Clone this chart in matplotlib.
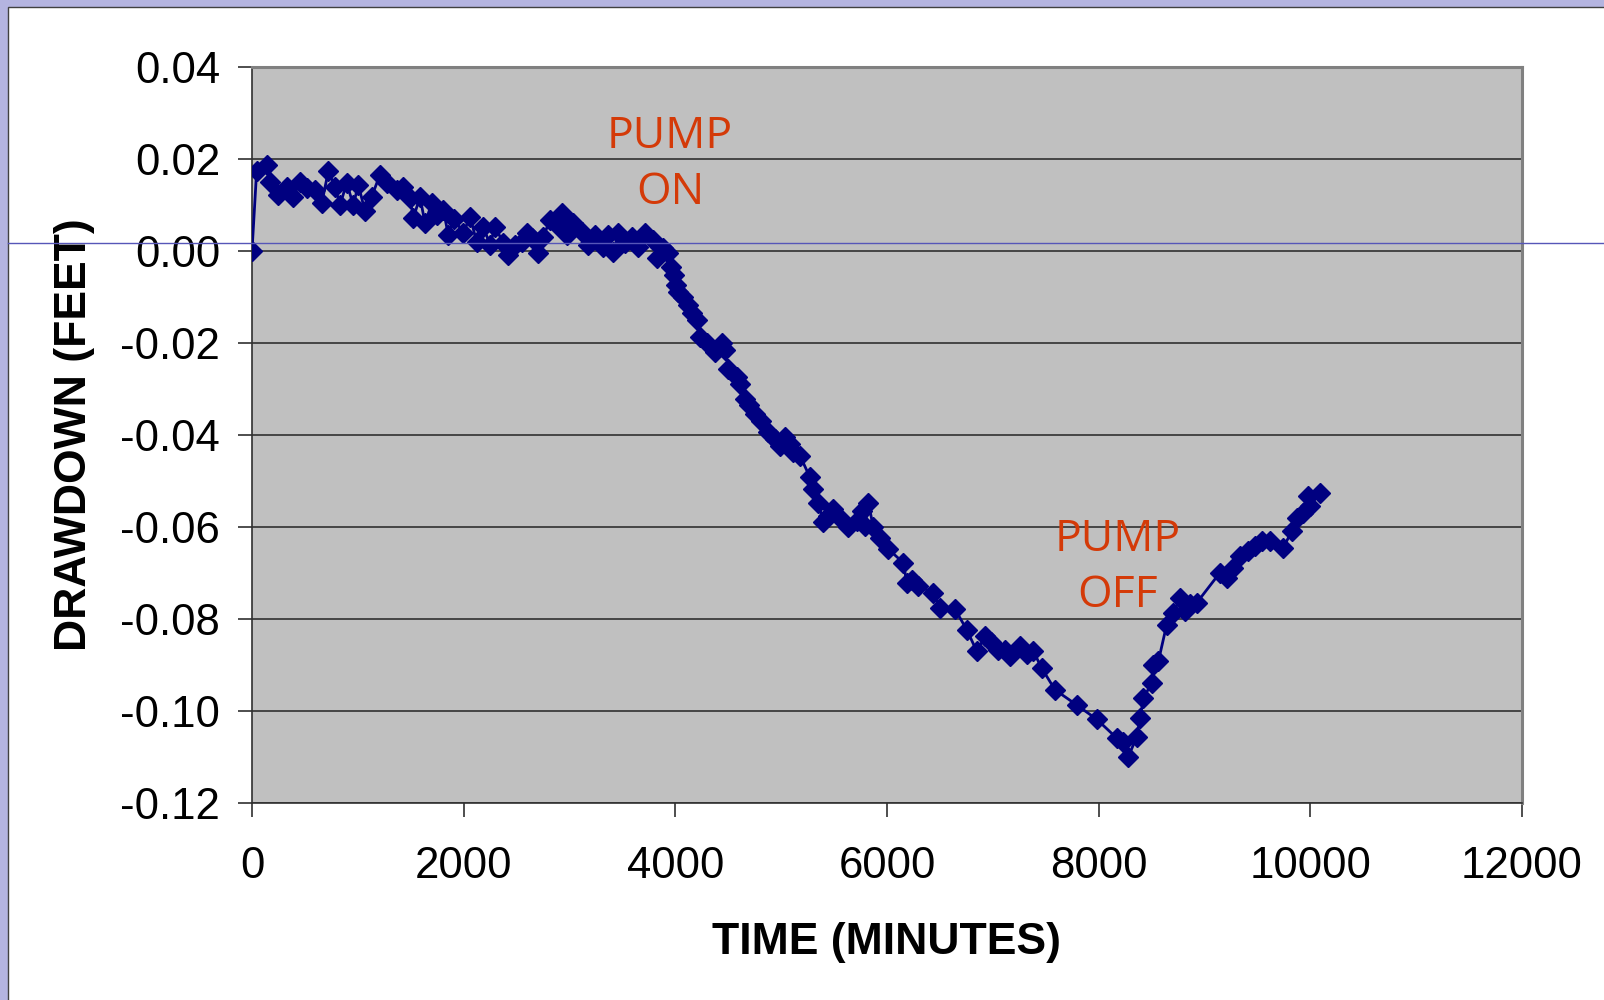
import numpy as np
import matplotlib.pyplot as plt
from matplotlib.lines import Line2D
from matplotlib.patches import Rectangle

# Water level readings (time in minutes, drawdown in feet)
time_min = [
    0, 44, 145, 170, 249, 328, 390, 454, 517, 595, 659, 721, 784, 832, 895,
    957, 1005, 1068, 1131, 1209, 1273, 1367, 1430, 1493, 1524, 1587, 1635,
    1698, 1745, 1808, 1855, 1910, 1997, 2060, 2123, 2186, 2249, 2296, 2375,
    2422, 2485, 2548, 2596, 2643, 2706, 2753, 2816, 2879, 2927, 2974, 3036,
    3115, 3178, 3241, 3320, 3367, 3414, 3461, 3524, 3588, 3651, 3713, 3792,
    3824, 3886, 3930, 3960, 3985, 4005, 4028, 4075, 4123, 4160, 4202, 4233,
    4296, 4375, 4438, 4470, 4501, 4580, 4611, 4659, 4700, 4753, 4810, 4879,
    4940, 4989, 5036, 5080, 5115, 5178, 5272, 5304, 5351, 5398, 5440, 5493,
    5556, 5635, 5714, 5761, 5792, 5824, 5870, 5934, 6013, 6155, 6186, 6240,
    6296, 6438, 6501, 6643, 6753, 6848, 6926, 6980, 7052, 7115, 7162, 7257,
    7320, 7383, 7462, 7588, 7793, 7982, 8171, 8234, 8281, 8360, 8391, 8423,
    8502, 8517, 8564, 8643, 8706, 8769, 8816, 8863, 8926, 9147, 9210, 9273,
    9336, 9414, 9477, 9540, 9619, 9745, 9824, 9871, 9934, 9981, 9997, 10092,
]
drawdown_ft = [
    0.0000, 0.0175, 0.0188, 0.0151, 0.0122, 0.0140, 0.0118, 0.0151, 0.0137,
    0.0133, 0.0104, 0.0173, 0.0140, 0.0100, 0.0148, 0.0100, 0.0144, 0.0086,
    0.0118, 0.0166, 0.0148, 0.0133, 0.0140, 0.0115, 0.0071, 0.0118, 0.0060,
    0.0104, 0.0079, 0.0089, 0.0035, 0.0070, 0.0039, 0.0075, 0.0020, 0.0053,
    0.0013, 0.0053, 0.0017, -0.0009, 0.0013, 0.0020, 0.0039, 0.0028, -0.0005,
    0.0031, 0.0068, 0.0057, 0.0082, 0.0035, 0.0060, 0.0042, 0.0013, 0.0035,
    0.0009, 0.0035, -0.0002, 0.0039, 0.0017, 0.0031, 0.0009, 0.0039, 0.0024,
    -0.0016, 0.0006, -0.0005, -0.0034, -0.0052, -0.0074, -0.0089, -0.0100,
    -0.0118, -0.0135, -0.0150, -0.0187, -0.0201, -0.0220, -0.0201, -0.0215,
    -0.0256, -0.0274, -0.0289, -0.0321, -0.0335, -0.0354, -0.0370, -0.0394,
    -0.0408, -0.0423, -0.0405, -0.0420, -0.0438, -0.0445, -0.0492, -0.0518,
    -0.0547, -0.0590, -0.0575, -0.0561, -0.0580, -0.0601, -0.0587, -0.0565,
    -0.0598, -0.0547, -0.0600, -0.0623, -0.0648, -0.0678, -0.0721, -0.0715,
    -0.0728, -0.0743, -0.0776, -0.0779, -0.0823, -0.0870, -0.0838, -0.0850,
    -0.0867, -0.0867, -0.0881, -0.0859, -0.0875, -0.0870, -0.0907, -0.0954,
    -0.0987, -0.1018, -0.1059, -0.1067, -0.1099, -0.1056, -0.1016, -0.0972,
    -0.0939, -0.0899, -0.0892, -0.0812, -0.0787, -0.0754, -0.0783, -0.0768,
    -0.0765, -0.0699, -0.0710, -0.0689, -0.0663, -0.0652, -0.0641, -0.0630,
    -0.0630, -0.0645, -0.0609, -0.0580, -0.0569, -0.0532, -0.0554, -0.0525,
]

x_ticks = [0, 2000, 4000, 6000, 8000, 10000, 12000]
y_ticks = [-0.12, -0.10, -0.08, -0.06, -0.04, -0.02, 0.00, 0.02, 0.04]

# annotations: (text, time, drawdown) for the centre of each label
notes = [("PUMP\nON", 3950, 0.0188), ("PUMP\nOFF", 8180, -0.0688)]

SERIES_COLOR = '#000080'
NOTE_COLOR = '#d43a08'


def main():
    plt.rcParams['font.family'] = ['Liberation Sans', 'DejaVu Sans']
    plt.rcParams['axes.unicode_minus'] = False

    fig = plt.figure(figsize=(16.04, 10), dpi=100)
    fig.patch.set_facecolor('#b4b4e0')

    # white slide panel with a thin dark border
    fig.add_artist(Rectangle((8 / 1604, -0.01), 1.0, 1 - 7 / 1000 + 0.01,
                             transform=fig.transFigure, facecolor='white',
                             edgecolor='#404040', linewidth=1.0, zorder=-1))

    ax = fig.add_axes([252 / 1604, 1 - 803 / 1000, (1522 - 252) / 1604, (803 - 67) / 1000])
    ax.set_facecolor('#c0c0c0')

    ax.plot(time_min, drawdown_ft, color=SERIES_COLOR, linewidth=2.0,
            marker='D', markersize=10, markerfacecolor=SERIES_COLOR,
            markeredgecolor=SERIES_COLOR, zorder=3)

    ax.set_xlim(0, 12000)
    ax.set_ylim(-0.12, 0.04)
    ax.set_xticks(x_ticks)
    ax.set_yticks(y_ticks)
    ax.set_yticklabels([f'{v:.2f}' for v in y_ticks])
    ax.grid(axis='y', color='#303030', linewidth=1.2)
    ax.set_axisbelow(True)

    ax.tick_params(axis='both', labelsize=31.5, length=10, width=1.2, color='#303030')
    ax.tick_params(axis='y', pad=13)
    ax.tick_params(axis='x', pad=21)

    for side in ('left', 'bottom'):
        ax.spines[side].set_color('#303030')
        ax.spines[side].set_linewidth(1.2)
    for side in ('top', 'right'):
        ax.spines[side].set_color('#808080')
        ax.spines[side].set_linewidth(2.2)

    ax.set_xlabel('TIME (MINUTES)', fontsize=32, fontweight='bold', labelpad=25)
    ax.set_ylabel('DRAWDOWN (FEET)', fontsize=32, fontweight='bold', labelpad=18)

    for text, tx, ty in notes:
        ax.text(tx, ty, text, color=NOTE_COLOR, fontsize=32, family='Open Sans',
                ha='center', va='center', linespacing=1.35, zorder=4)

    # thin blue rule of the slide template, drawn across the chart
    fig.add_artist(Line2D([8 / 1604, 1.0], [1 - 243 / 1000] * 2,
                          transform=fig.transFigure, color='#5656b8',
                          linewidth=1.0, zorder=5))

    fig.savefig('out.png', dpi=100, facecolor=fig.get_facecolor())


if __name__ == '__main__':
    main()
